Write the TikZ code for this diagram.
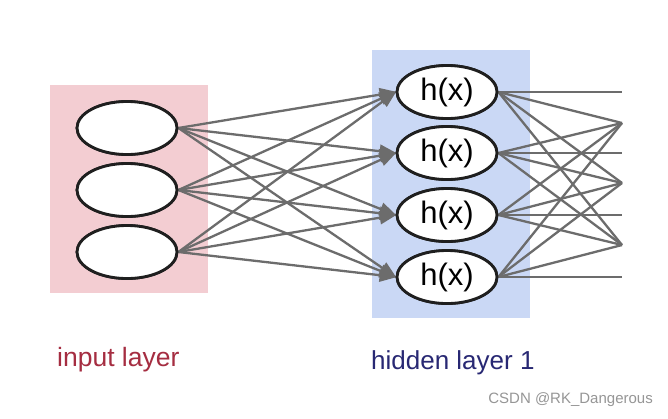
\documentclass[tikz,border=0pt]{standalone}
\usepackage{fontspec}
\setmainfont{Liberation Sans}
\usetikzlibrary{arrows.meta,shapes.geometric}
\definecolor{pinkbg}{RGB}{243,205,210}
\definecolor{bluebg}{RGB}{202,216,245}
\definecolor{linegray}{RGB}{108,108,108}
\definecolor{inred}{RGB}{165,45,65}
\definecolor{hidblue}{RGB}{40,40,115}
\definecolor{wm}{RGB}{150,150,150}
\tikzset{
  neuron/.style={ellipse, draw=black!88, line width=2.8pt, fill=white, minimum width=100pt, minimum height=53pt, inner sep=0pt, font=\fontsize{31}{32}\selectfont},
  conn/.style={draw=linegray, line width=2.3pt},
  arr/.style={conn, -{Triangle[length=17pt,width=13pt]}, shorten >=-1pt},
}
\begin{document}
\begin{tikzpicture}[x=1pt,y=-1pt]
\useasboundingbox (0,0) rectangle (668,418);
\fill[white] (0,0) rectangle (668,418);
\fill[pinkbg] (50,85) rectangle (208,293);
\fill[bluebg] (372,50) rectangle (530,318);
% right-side end points
\coordinate (r1) at (622,92);
\coordinate (r2) at (622,123);
\coordinate (r3) at (622,153);
\coordinate (r4) at (622,183);
\coordinate (r5) at (622,215);
\coordinate (r6) at (622,245);
\coordinate (r7) at (622,277);
% nodes (for positions)
\node[neuron] (i1) at (127,128) {};
\node[neuron] (i2) at (127,190) {};
\node[neuron] (i3) at (127,252) {};
\node[neuron] (h1) at (447,92) {h(x)};
\node[neuron] (h2) at (447,153) {h(x)};
\node[neuron] (h3) at (447,215) {h(x)};
\node[neuron] (h4) at (447,277) {h(x)};
% connectors
\foreach \i in {1,2,3} {
  \foreach \h in {1,2,3,4} {
    \draw[arr] (i\i.east) -- (h\h.west);
  }
}
\draw[conn] (h1.east) -- (r1);
\draw[conn] (h2.east) -- (r3);
\draw[conn] (h3.east) -- (r5);
\draw[conn] (h4.east) -- (r7);
\foreach \h in {1,2,3,4} {
  \foreach \r in {2,4,6} {
    \draw[conn] (h\h.east) -- (r\r);
  }
}
% redraw nodes on top of connector ends
\node[neuron] at (i1) {};
\node[neuron] at (i2) {};
\node[neuron] at (i3) {};
\node[neuron] at (h1) {h(x)};
\node[neuron] at (h2) {h(x)};
\node[neuron] at (h3) {h(x)};
\node[neuron] at (h4) {h(x)};
% labels
\node[text=inred, font=\fontsize{26.5}{27}\selectfont, anchor=west, inner sep=0pt] (lin) at (57,360) {input layer};
\node[text=hidblue, font=\fontsize{26}{27}\selectfont, anchor=west, inner sep=0pt] (lhid) at (371,363) {hidden layer 1};
\node[text=wm, font=\fontsize{15}{16}\selectfont, anchor=east, inner sep=0pt] (wmk) at (653,400) {CSDN @RK\_Dangerous};
\end{tikzpicture}
\end{document}
